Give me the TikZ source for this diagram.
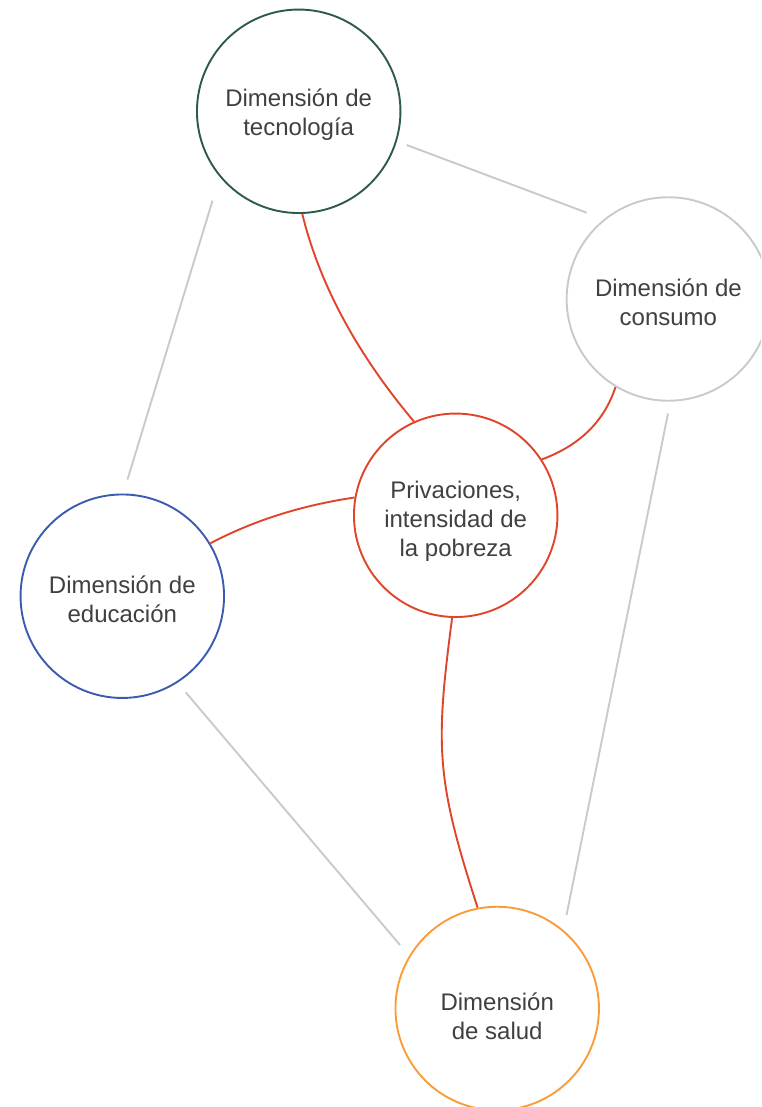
\documentclass[tikz,border=0pt]{standalone}
\usepackage{fontspec}
\setmainfont{Liberation Sans}
\definecolor{tecgreen}{HTML}{2E5A4C}
\definecolor{edublue}{HTML}{3A5BAF}
\definecolor{povred}{HTML}{E0442B}
\definecolor{salorange}{HTML}{F99D3A}
\definecolor{lgray}{HTML}{CACACA}
\definecolor{txt}{HTML}{404040}
\begin{document}
\begin{tikzpicture}[x=1pt,y=-1pt,
  dim/.style={circle, draw, line width=1.9pt, minimum size=203.5pt, inner sep=0pt},
  lbl/.style={align=center, text=txt, inner sep=0pt, font=\fontsize{24}{29}\selectfont},
  link/.style={draw=povred, line width=1.9pt},
  faint/.style={draw=lgray, line width=1.9pt}]
\useasboundingbox (0,0) rectangle (761,1107);
\clip (0,0) rectangle (761,1107);
\fill[white] (0,0) rectangle (761,1107);
% circles
\node[dim, draw=tecgreen] (tec) at (298.7,111.3) {};
\node[dim, draw=lgray] (cons) at (668.4,299) {};
\node[dim, draw=povred] (priv) at (455.7,515.3) {};
\node[dim, draw=edublue] (edu) at (122.3,596.2) {};
\node[dim, draw=salorange] (sal) at (497.2,1008.5) {};
% texts
\node[lbl] (tecT) at ([yshift=-3pt]tec.center) {Dimensión de\\tecnología};
\node[lbl] (consT) at ([yshift=-3pt]cons.center) {Dimensión de\\consumo};
\node[lbl] (privT) at ([yshift=-6pt]priv.center) {Privaciones,\\intensidad de\\la pobreza};
\node[lbl] (eduT) at ([yshift=-3pt]edu.center) {Dimensión de\\educación};
\node[lbl] (salT) at ([yshift=-8pt]sal.center) {Dimensión\\de salud};
% free ends of the faint connectors
\coordinate (tcA) at (406.7,145);
\coordinate (tcB) at (586.7,212.7);
\coordinate (teA) at (212.5,200.7);
\coordinate (teB) at (127.5,479.5);
\coordinate (esA) at (185.7,692.3);
\coordinate (esB) at (400,945);
\coordinate (csA) at (668,413.5);
\coordinate (csB) at (566.5,915);
\draw[faint] (tcA) -- (tcB);
\draw[faint] (teA) -- (teB);
\draw[faint] (esA) -- (esB);
\draw[faint] (csA) -- (csB);
% red connectors
\draw[link] (tec.-88) .. controls (319.2,283.1) and (356.2,352.9) .. (priv.114.6);
\draw[link] (priv.33.4) .. controls (579.1,445.8) and (604.2,421.6) .. (cons.239.1);
\draw[link] (priv.170.9) .. controls (303.8,505.1) and (256.0,519.3) .. (edu.31.7);
\draw[link] (priv.-92.6) .. controls (434.9,748.3) and (436.4,780) .. (sal.101.8);
\end{tikzpicture}
\end{document}
